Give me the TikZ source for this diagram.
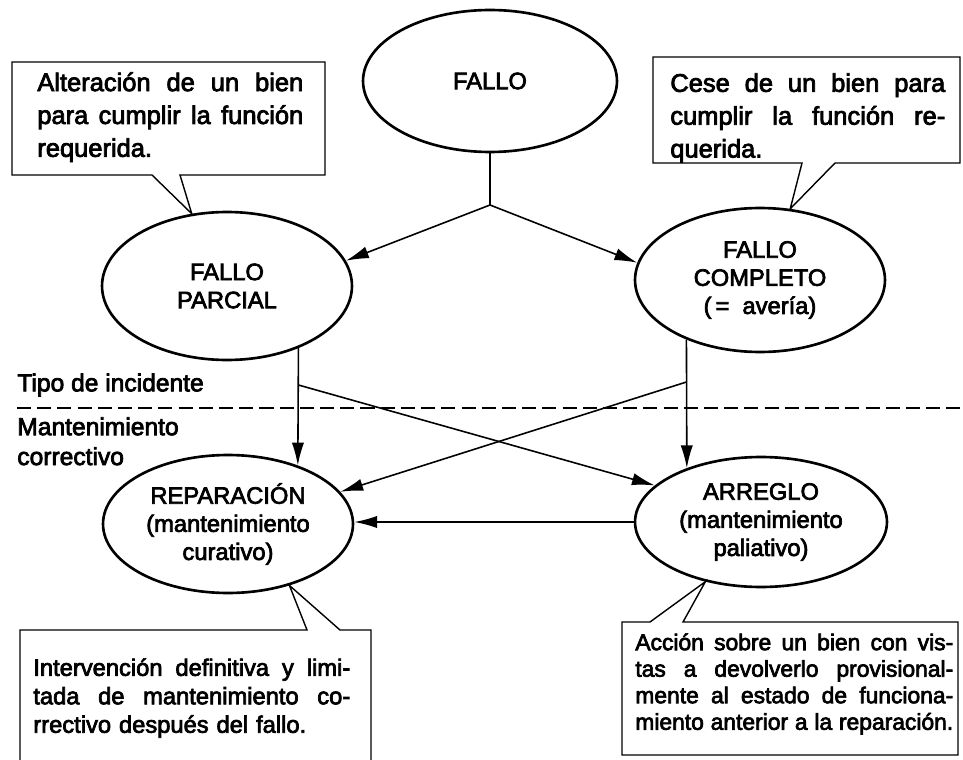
\documentclass[tikz,border=0pt]{standalone}
\usepackage{fontspec}
\setmainfont{Liberation Sans}[FakeBold=3]
\usetikzlibrary{shapes.geometric,arrows.meta}
\newcommand{\jline}[1]{\makebox[\hsize][s]{\spaceskip=0pt\xspaceskip=0pt #1}}

\begin{document}
\begin{tikzpicture}[x=0.02cm, y=-0.02cm,
        bubble/.style={ellipse, draw, line width=1.5pt, inner sep=0pt, align=center,
                       font=\fontsize{13.5}{16}\selectfont},
        link/.style={line width=0.9pt},
        arrow/.style={link, -{Latex[length=13pt,width=7pt]}},
        callout/.style={line width=0.8pt, line join=miter},
        note/.style={inner sep=0pt, anchor=north west, align=left},
        bignote/.style={note, font=\fontsize{14.5}{18.7}\selectfont},
        label/.style={inner sep=0pt, font=\fontsize{14}{17}\selectfont, align=left}]
    \useasboundingbox (0,0) rectangle (963,760);

    \node[bubble, minimum width=5.08cm, minimum height=2.84cm] (fallo)      at (490,81)  {FALLO};
    \node[bubble, minimum width=5.00cm, minimum height=2.96cm] (parcial)    at (227,286) {FALLO\\PARCIAL};
    \node[bubble, minimum width=5.00cm, minimum height=2.88cm] (completo)   at (760,280) {FALLO\\COMPLETO\\(\,=\ \ avería)};
    \node[bubble, minimum width=5.00cm, minimum height=2.76cm] (reparacion) at (228,524) {REPARACIÓN\\(mantenimiento\\curativo)};
    \node[bubble, minimum width=5.04cm, minimum height=2.60cm] (arreglo)    at (761,522) {ARREGLO\\(mantenimiento\\paliativo)};

    \coordinate (split)  at (fallo.south |- 0,205);
    \draw[link]  (fallo.south) -- (split);
    \draw[arrow] (split) -- (parcial.12);
    \draw[arrow] (split) -- (completo.172);
    \draw[arrow] (parcial.-41) -- (reparacion.40);
    \draw[arrow] (completo.219) -- (arreglo.144);
    \coordinate (crossl) at (parcial.-41 |- 0,385);
    \coordinate (crossr) at (completo.219 |- 0,382);
    \draw[arrow] (crossl) -- (arreglo.161);
    \draw[arrow] (crossr) -- (reparacion.16);
    \draw[arrow] (arreglo.west) -- (arreglo.west -| reparacion.east);

    \draw[line width=1.6pt, dash pattern=on 8pt off 3.5pt] (17,408) -- (963,408);
    \node[label, anchor=west]       (tipo) at (17,385) {Tipo de incidente};
    \node[label, anchor=north west] (mant) at (17,417) {Mantenimiento\\correctivo};

    \draw[callout] (152,175) -- (12,175) -- (12,62) -- (325,62) -- (325,175) -- (180,175) -- (parcial.116) -- cycle;
    \node[bignote, text width=5.32cm] (altera) at (37,72)
        {\jline{Alteración de un bien}\\\jline{para cumplir la función}\\requerida.};

    \draw[callout] (802,163) -- (653,163) -- (653,57) -- (960,57) -- (960,163) -- (835,163) -- (completo.67) -- cycle;
    \node[bignote, text width=5.5cm] (cese) at (670,73)
        {\jline{Cese de un bien para}\\\jline{cumplir la función re-}\\querida.};

    \draw[callout] (20,760) -- (20,630) -- (307,630) -- (reparacion.-45) -- (340,630) -- (371,630) -- (371,760);
    \node[note, font=\fontsize{13.5}{16.2}\selectfont, text width=6.34cm] (interv) at (33,658)
        {\jline{Intervención definitiva y limi-}\\\jline{tada de mantenimiento co-}\\rrectivo después del fallo.};

    \draw[callout] (650,622) -- (622,622) -- (622,755) -- (958,755) -- (958,622) -- (683,622) -- (arreglo.227) -- cycle;
    \node[note, font=\fontsize{13}{15.1}\selectfont, text width=6.36cm] (accion) at (635,633)
        {\jline{Acción sobre un bien con vis-}\\\jline{tas a devolverlo provisional-}\\\jline{mente al estado de funciona-}\\\jline{miento anterior a la reparación.}};
\end{tikzpicture}
\end{document}
